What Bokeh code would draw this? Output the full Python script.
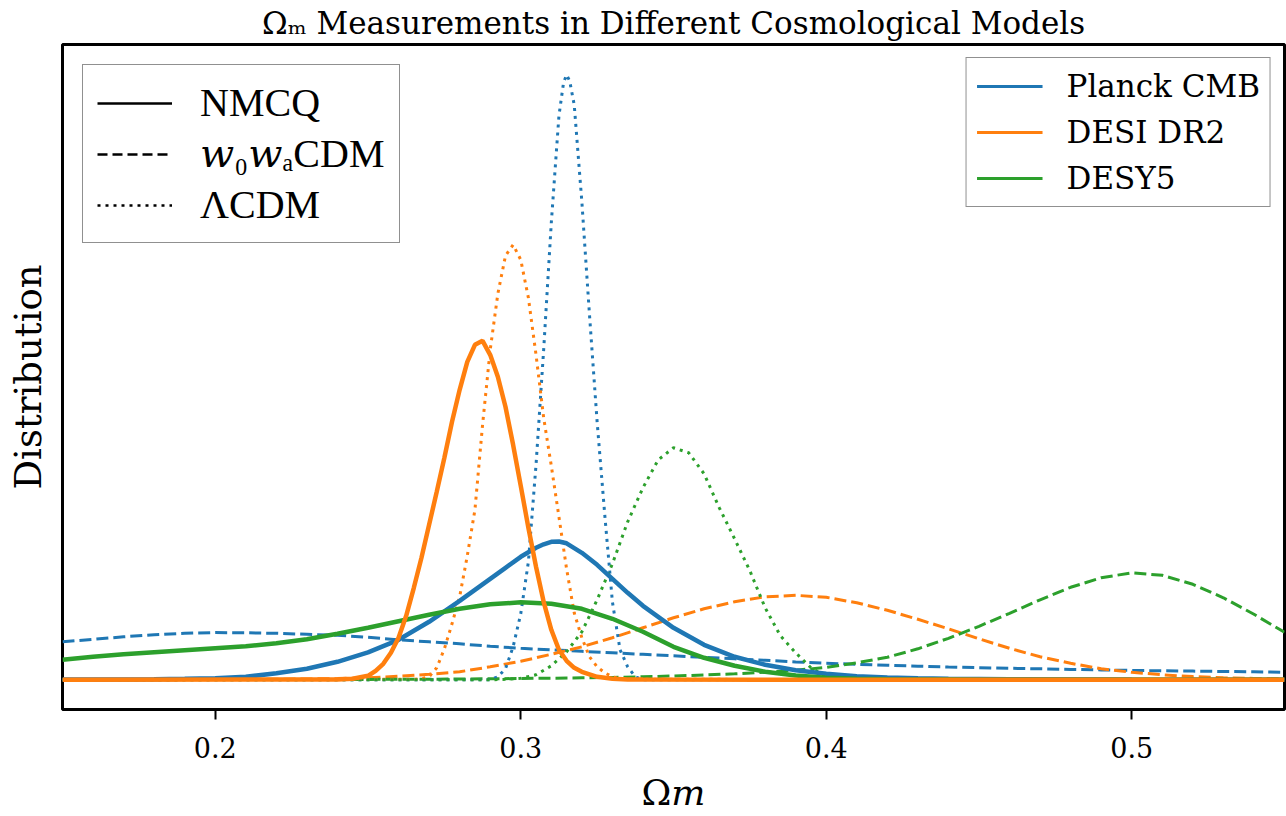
from bokeh.plotting import figure
from bokeh.models import Range1d, FixedTicker, Legend, LegendItem
from bokeh.embed import file_html
from bokeh.resources import INLINE

NAN = float("nan")

# ---------------- data ----------------
# Planck CMB
planck_nmcq_x = [0.15, 0.16, 0.17, 0.18, 0.19, 0.20, 0.21, 0.22, 0.23, 0.24, 0.25, 0.26, 0.27, 0.28,
                 0.29, 0.295, 0.30, 0.305, 0.3075, 0.31, 0.3125, 0.315, 0.32, 0.325, 0.33, 0.335,
                 0.34, 0.35, 0.36, 0.37, 0.38, 0.39, 0.40, 0.41, 0.42, 0.43, 0.44, 0.46, 0.50, 0.55]
planck_nmcq_y = [0.2, 0.3, 0.4, 0.6, 1.0, 1.6, 3.0, 6.5, 11.0, 18.0, 27.5, 40, 58, 79,
                 101, 112, 123, 132, 135.5, 138, 138.3, 136.5, 127, 115, 101, 87,
                 74, 52, 35, 23, 15, 9.5, 6.0, 3.6, 2.3, 1.5, 1.0, 0.5, 0.2, 0.1]

grid01 = [0.15, 0.16, 0.17, 0.18, 0.19, 0.20, 0.21, 0.22, 0.23, 0.24, 0.25, 0.26, 0.27, 0.28,
          0.29, 0.30, 0.31, 0.32, 0.33, 0.34, 0.35, 0.36, 0.37, 0.38, 0.39, 0.40, 0.41, 0.42,
          0.43, 0.44, 0.45, 0.46, 0.47, 0.48, 0.49, 0.50, 0.51, 0.52, 0.53, 0.54, 0.55]
planck_w0wa_y = [38, 40.5, 43, 45, 46.5, 47.2, 47, 46.5, 45.5, 44.5, 42.5, 40, 38, 36,
                 33.5, 31.5, 30, 28.5, 27, 25.5, 24, 22.5, 21, 19.5, 17.8, 16.5, 15.5, 14.5,
                 13.6, 12.8, 12.1, 11.5, 11.0, 10.4, 9.9, 9.4, 9.0, 8.7, 8.3, 8.0, 7.6]

planck_lcdm_x = [0.15, 0.29, 0.2925, 0.295, 0.2975, 0.30, 0.3025, 0.305, 0.3075, 0.31, 0.3125,
                 0.314, 0.315, 0.316, 0.3175, 0.32, 0.3225, 0.325, 0.3275, 0.33, 0.3325,
                 0.335, 0.3375, 0.34, 0.55]
planck_lcdm_y = [0, 0, 3, 11, 33, 66, 118, 215, 330, 457, 564,
                 597, 605, 599, 575, 478, 365, 258, 165, 78, 30,
                 13, 3, 0, 0]

# DESI DR2
desi_nmcq_x = [0.15, 0.24, 0.245, 0.25, 0.2525, 0.255, 0.2575, 0.26, 0.2625, 0.265, 0.2675,
               0.27, 0.2725, 0.275, 0.2775, 0.28, 0.2825, 0.285, 0.2875, 0.29, 0.2925,
               0.295, 0.2975, 0.30, 0.3025, 0.305, 0.3075, 0.31, 0.3125, 0.315, 0.3175,
               0.32, 0.325, 0.33, 0.335, 0.34, 0.55]
desi_nmcq_y = [0, 0.3, 1, 4, 9, 16, 27, 42, 64, 92, 122,
               155, 188, 222, 258, 290, 318, 335, 339, 325, 303,
               273, 235, 194, 152, 113, 78, 50, 30, 19, 12,
               8, 3, 1, 0.4, 0.2, 0]

desi_w0wa_y = [0, 0, 0.1, 0.1, 0.2, 0.3, 0.4, 0.6, 0.8, 1.2, 2, 3.5, 5.5, 8,
               13, 18.5, 25.5, 33, 42, 52, 62, 71, 78, 83, 84.5, 82.5, 77, 69.5,
               60.5, 51, 41, 31.5, 23, 16.5, 11, 7.5, 5, 3.2, 2, 1.4, 1]

desi_lcdm_x = [0.15, 0.265, 0.2675, 0.27, 0.2725, 0.275, 0.2775, 0.28, 0.2825, 0.285, 0.2875,
               0.29, 0.2925, 0.295, 0.2975, 0.30, 0.3025, 0.305, 0.3075, 0.31, 0.3125,
               0.315, 0.3175, 0.32, 0.3225, 0.325, 0.3275, 0.33, 0.3325, 0.335, 0.55]
desi_lcdm_y = [0, 0.5, 1, 3, 12, 31, 56, 83, 124, 170, 255,
               330, 386, 424, 435, 420, 382, 325, 262, 214, 163,
               111, 67, 42, 23, 13, 7, 3, 1, 0.5, 0]

# DESY5
desy5_nmcq_y = [20, 23, 25.5, 27.5, 29.5, 31.5, 33.5, 36.5, 40.5, 46, 52, 58.5, 65, 71,
                75.5, 77.5, 76, 71, 61, 48, 33, 22, 14, 8, 4.2, 2, 1, 0.5,
                0.3, 0.2, 0.1, 0.1, 0, 0, 0, 0, 0, 0, 0, 0, 0]

desy5_w0wa_y = [0.4, 0.4, 0.4, 0.4, 0.4, 0.4, 0.4, 0.4, 0.4, 0.4, 0.4, 0.5, 0.6, 0.8,
                1.0, 1.3, 1.6, 2.0, 2.4, 3.0, 3.8, 4.8, 6.0, 7.5, 9.5, 12.5, 17, 22.5,
                31, 41.5, 53.5, 66.5, 80, 92.5, 102, 107, 104.5, 95.5, 82, 65.5, 47.5]

desy5_lcdm_x = [0.15, 0.29, 0.295, 0.30, 0.305, 0.31, 0.315, 0.32, 0.325, 0.33, 0.335, 0.34,
                0.345, 0.35, 0.355, 0.36, 0.365, 0.37, 0.375, 0.38, 0.385, 0.39, 0.395,
                0.40, 0.405, 0.41, 0.55]
desy5_lcdm_y = [0, 0, 0.5, 1.5, 5, 14, 28, 48, 80, 116, 158, 192,
                220, 232, 227, 206, 172, 141, 109, 72, 44, 27, 12,
                3, 0.5, 0, 0]

datasets = ["Planck CMB", "DESI DR2", "DESY5"]
models = ["NMCQ", "𝑤₀𝑤ₐCDM", "ΛCDM"]
x_ticks = [0.2, 0.3, 0.4, 0.5]

BLUE, ORANGE, GREEN = "#1f77b4", "#ff7f0e", "#2ca02c"

# ---------------- figure ----------------
p = figure(width=1286, height=816, output_backend="svg", toolbar_location=None,
           x_range=Range1d(0.15, 0.55), y_range=Range1d(-29.7, 635.3),
           min_border_left=62, min_border_right=2, min_border_top=44, min_border_bottom=107,
           title="Ωₘ Measurements in Different Cosmological Models")
p.title.align = "center"
p.title.vertical_align = "top"
p.title.text_font = "DejaVu Serif"
p.title.text_font_size = "31px"
p.title.text_font_style = "normal"
p.title.text_color = "black"
p.title.standoff = 4

p.background_fill_color = "white"
p.border_fill_color = "white"
p.xgrid.visible = False
p.ygrid.visible = False
p.outline_line_color = "black"
p.outline_line_width = 3
p.outline_line_alpha = 1.0

xa = p.xaxis[0]
xa.ticker = FixedTicker(ticks=x_ticks)
xa.axis_line_color = None
xa.major_tick_line_color = "black"
xa.major_tick_line_width = 2
xa.major_tick_in = 0
xa.major_tick_out = 10
xa.minor_tick_line_color = None
xa.major_label_text_font = "DejaVu Serif"
xa.major_label_text_font_size = "27px"
xa.major_label_text_color = "black"
xa.major_label_standoff = 17
xa.axis_label = "Ω𝑚"
xa.axis_label_text_font = "DejaVu Serif"
xa.axis_label_text_font_size = "36px"
xa.axis_label_text_font_style = "normal"
xa.axis_label_text_color = "black"
xa.axis_label_text_line_height = 0.8
xa.axis_label_standoff = 11

ya = p.yaxis[0]
ya.ticker = FixedTicker(ticks=[])
ya.axis_line_color = None
ya.major_tick_line_color = None
ya.minor_tick_line_color = None
ya.major_label_text_font_size = "0px"
ya.axis_label = "Distribution"
ya.axis_label_text_font = "DejaVu Serif"
ya.axis_label_text_font_size = "37px"
ya.axis_label_text_font_style = "normal"
ya.axis_label_text_color = "black"
ya.axis_label_standoff = 13

DASH = "12 5"
DOT = "3 5"

# dashed (w0waCDM)
p.line(grid01, planck_w0wa_y, line_color=BLUE, line_width=3, line_dash=DASH)
p.line(grid01, desi_w0wa_y, line_color=ORANGE, line_width=3, line_dash=DASH)
p.line(grid01, desy5_w0wa_y, line_color=GREEN, line_width=3, line_dash=DASH)
# dotted (LCDM)
p.line(planck_lcdm_x, planck_lcdm_y, line_color=BLUE, line_width=3, line_dash=DOT)
p.line(desi_lcdm_x, desi_lcdm_y, line_color=ORANGE, line_width=3, line_dash=DOT)
p.line(desy5_lcdm_x, desy5_lcdm_y, line_color=GREEN, line_width=3, line_dash=DOT)
# solid (NMCQ)
p.line(planck_nmcq_x, planck_nmcq_y, line_color=BLUE, line_width=4.5)
p.line(grid01, desy5_nmcq_y, line_color=GREEN, line_width=4.5)
p.line(desi_nmcq_x, desi_nmcq_y, line_color=ORANGE, line_width=4.5)

# legend swatch renderers (invisible NaN data)
k_solid = p.line([NAN, NAN], [NAN, NAN], line_color="black", line_width=2.5)
k_dash = p.line([NAN, NAN], [NAN, NAN], line_color="black", line_width=2.5, line_dash="10 5")
k_dot = p.line([NAN, NAN], [NAN, NAN], line_color="black", line_width=2.5, line_dash="3 5")
c_b = p.line([NAN, NAN], [NAN, NAN], line_color=BLUE, line_width=3)
c_o = p.line([NAN, NAN], [NAN, NAN], line_color=ORANGE, line_width=3)
c_g = p.line([NAN, NAN], [NAN, NAN], line_color=GREEN, line_width=3)

leg_models = Legend(items=[LegendItem(label=models[0], renderers=[k_solid]),
                           LegendItem(label=models[1], renderers=[k_dash]),
                           LegendItem(label=models[2], renderers=[k_dot])],
                    location="top_left", margin=20, padding=14, spacing=4,
                    label_height=46, glyph_width=75, glyph_height=30, label_standoff=28,
                    label_text_font="Liberation Serif, DejaVu Serif", label_text_font_size="40px",
                    label_text_color="black",
                    border_line_color="#222222", border_line_width=1.3,
                    background_fill_color="white", background_fill_alpha=1.0)
leg_data = Legend(items=[LegendItem(label=datasets[0], renderers=[c_b]),
                         LegendItem(label=datasets[1], renderers=[c_o]),
                         LegendItem(label=datasets[2], renderers=[c_g])],
                  location="top_right", margin=13, padding=10, spacing=10,
                  label_height=36, glyph_width=66, glyph_height=30, label_standoff=24,
                  label_text_font="DejaVu Serif", label_text_font_size="31px",
                  label_text_color="black",
                  border_line_color="#222222", border_line_width=1.3,
                  background_fill_color="white", background_fill_alpha=1.0)
p.add_layout(leg_models)
p.add_layout(leg_data)

open("out.html", "w").write(file_html(p, INLINE))
